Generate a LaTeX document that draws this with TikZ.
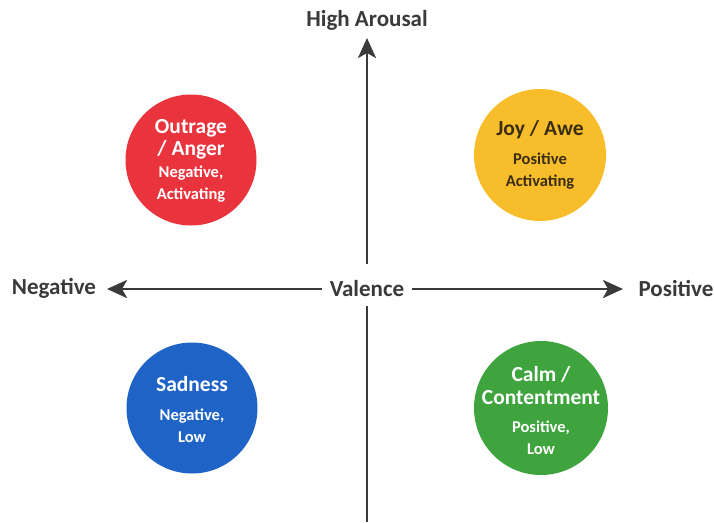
\documentclass[tikz,border=0pt]{standalone}
\usepackage{fontspec}
\setmainfont{Carlito}
\usetikzlibrary{arrows.meta}
\definecolor{axisgray}{HTML}{3A3A3A}
\definecolor{cred}{HTML}{E9333D}
\definecolor{cyellow}{HTML}{F8BD2A}
\definecolor{cblue}{HTML}{1F63C7}
\definecolor{cgreen}{HTML}{3FA43E}
\definecolor{darktext}{HTML}{3A2E12}
\tikzset{
  blob/.style={circle, minimum size=131pt, inner sep=0pt, align=center,
    font=\fontsize{16.5}{22}\selectfont\bfseries},
  axislabel/.style={font=\fontsize{23}{25}\selectfont\bfseries, text=axisgray, inner sep=2pt},
  axisline/.style={draw=axisgray, line width=2.6pt},
  axisarrow/.style={axisline, -{Stealth[length=20pt, width=18pt, inset=5pt]}},
}
\newcommand{\ttl}[1]{{\fontsize{21.5}{22}\selectfont #1}}
\begin{document}
\begin{tikzpicture}[x=1pt, y=-1pt]
\fill[white] (0,0) rectangle (714,522);
\useasboundingbox (0,0) rectangle (714,522);

\node[axislabel] (val) at (367,289) {Valence};
\node[axislabel] (neg) at (54,288) {Negative};
\node[axislabel] (pos) at (676,288) {Positive};
\node[axislabel] (high) at (367,20) {High Arousal};
\coordinate (bot) at (367,522);
\coordinate (top) at (367,38);
\coordinate (left) at (107,289);
\coordinate (right) at (623,289);

\draw[axisarrow] (367,264) -- (top);
\draw[axisline] (367,306) -- (bot);
\draw[axisarrow] (val.west) ++(-6,0) -- (left);
\draw[axisarrow] (val.east) ++(6,0) -- (right);

\node[blob, fill=cred, text=white] (anger) at (191,160) {};
\node[align=center, font=\fontsize{16.5}{22}\selectfont\bfseries, text=white] (angert) at (191,161)
  {\ttl{Outrage}\\\ttl{/ Anger}\\Negative,\\Activating};
\node[blob, fill=cyellow, minimum size=132pt] (joy) at (540,155) {};
\node[align=center, font=\fontsize{16.5}{22}\selectfont\bfseries, text=darktext] (joyt) at (540,155)
  {\ttl{Joy / Awe}\\[7pt]Positive\\Activating};
\node[blob, fill=cblue] (sad) at (192,408) {};
\node[align=center, font=\fontsize{16.5}{22}\selectfont\bfseries, text=white] (sadt) at (192,410)
  {\ttl{Sadness}\\[7pt]Negative,\\Low};
\node[blob, fill=cgreen, minimum size=134pt] (calm) at (541,408) {};
\node[align=center, font=\fontsize{16.5}{22}\selectfont\bfseries, text=white] (calmt) at (541,411)
  {\ttl{Calm /}\\[1pt]\ttl{Contentment}\\[6pt]Positive,\\Low};
\end{tikzpicture}
\end{document}
